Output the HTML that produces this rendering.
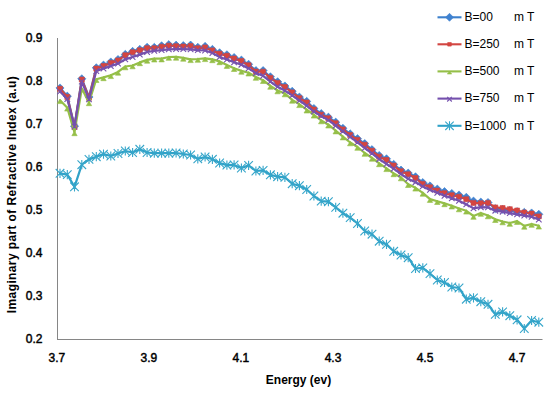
<!DOCTYPE html>
<html><head><meta charset="utf-8"><style>
html,body{margin:0;padding:0;background:#fff;}
body{width:550px;height:396px;position:relative;overflow:hidden;font-family:"Liberation Sans",sans-serif;color:#000;}
svg{position:absolute;left:0;top:0;}
.yl{position:absolute;left:0;width:42.5px;text-align:right;font-size:12px;line-height:15px;-webkit-text-stroke:0.45px #000;}
.xl{position:absolute;top:350.8px;width:40px;text-align:center;font-size:12px;line-height:15px;-webkit-text-stroke:0.45px #000;}
.lg{position:absolute;left:464.5px;font-size:12px;line-height:15px;}
.lg2{position:absolute;left:514px;font-size:12px;line-height:15px;}
.xt{position:absolute;left:198.5px;width:200px;top:372.6px;text-align:center;font-size:12px;font-weight:bold;line-height:15px;}
.yt{position:absolute;left:12px;top:186.6px;width:300px;margin-left:-150px;text-align:center;font-size:12px;font-weight:bold;line-height:15px;transform:rotate(-90deg);letter-spacing:0.38px;}
</style></head><body>
<svg width="550" height="396" viewBox="0 0 550 396">
<line x1="57.5" y1="38" x2="57.5" y2="340" stroke="#868686" stroke-width="1"/>
<line x1="57" y1="339.5" x2="542.5" y2="339.5" stroke="#868686" stroke-width="1"/>
<polyline points="60.0,88.0 67.3,96.2 74.5,126.2 81.8,78.8 89.0,97.0 96.3,67.8 103.5,65.1 110.8,62.0 118.0,59.5 125.3,54.4 132.6,51.4 139.8,49.4 147.1,47.3 154.3,47.4 161.6,45.8 168.8,44.7 176.1,45.2 183.3,45.6 190.6,45.1 197.8,47.3 205.1,46.4 212.4,49.4 219.6,52.8 226.9,54.8 234.1,57.5 241.4,60.1 248.6,64.3 255.9,70.6 263.1,70.6 270.4,76.8 277.6,81.8 284.9,86.0 292.2,91.3 299.4,97.1 306.7,101.4 313.9,108.5 321.2,113.6 328.4,117.2 335.7,122.2 342.9,128.3 350.2,133.9 357.5,138.7 364.7,143.6 372.0,149.7 379.2,155.5 386.5,158.8 393.7,164.4 401.0,170.1 408.2,173.1 415.5,176.8 422.8,182.6 430.0,185.9 437.3,189.1 444.5,191.6 451.8,193.5 459.0,195.0 466.3,197.3 473.5,201.1 480.8,202.1 488.0,202.5 495.3,208.6 502.6,209.3 509.8,210.4 517.1,211.7 524.3,212.4 531.6,213.0 538.8,214.3" fill="none" stroke="#3d80cc" stroke-width="2.2" stroke-linejoin="round" stroke-linecap="round"/>
<path d="M60.0 83.9L64.1 88.0L60.0 92.1L55.9 88.0ZM67.3 92.1L71.4 96.2L67.3 100.3L63.2 96.2ZM74.5 122.1L78.6 126.2L74.5 130.3L70.4 126.2ZM81.8 74.7L85.9 78.8L81.8 82.9L77.7 78.8ZM89.0 92.9L93.1 97.0L89.0 101.1L84.9 97.0ZM96.3 63.7L100.4 67.8L96.3 71.9L92.2 67.8ZM103.5 61.0L107.6 65.1L103.5 69.2L99.4 65.1ZM110.8 57.9L114.9 62.0L110.8 66.1L106.7 62.0ZM118.0 55.4L122.1 59.5L118.0 63.6L113.9 59.5ZM125.3 50.3L129.4 54.4L125.3 58.5L121.2 54.4ZM132.6 47.3L136.7 51.4L132.6 55.5L128.5 51.4ZM139.8 45.3L143.9 49.4L139.8 53.5L135.7 49.4ZM147.1 43.2L151.2 47.3L147.1 51.4L143.0 47.3ZM154.3 43.3L158.4 47.4L154.3 51.5L150.2 47.4ZM161.6 41.7L165.7 45.8L161.6 49.9L157.5 45.8ZM168.8 40.6L172.9 44.7L168.8 48.8L164.7 44.7ZM176.1 41.1L180.2 45.2L176.1 49.3L172.0 45.2ZM183.3 41.5L187.4 45.6L183.3 49.7L179.2 45.6ZM190.6 41.0L194.7 45.1L190.6 49.2L186.5 45.1ZM197.8 43.2L201.9 47.3L197.8 51.4L193.7 47.3ZM205.1 42.3L209.2 46.4L205.1 50.5L201.0 46.4ZM212.4 45.3L216.5 49.4L212.4 53.5L208.3 49.4ZM219.6 48.7L223.7 52.8L219.6 56.9L215.5 52.8ZM226.9 50.7L231.0 54.8L226.9 58.9L222.8 54.8ZM234.1 53.4L238.2 57.5L234.1 61.6L230.0 57.5ZM241.4 56.0L245.5 60.1L241.4 64.2L237.3 60.1ZM248.6 60.2L252.7 64.3L248.6 68.4L244.5 64.3ZM255.9 66.5L260.0 70.6L255.9 74.7L251.8 70.6ZM263.1 66.5L267.2 70.6L263.1 74.7L259.0 70.6ZM270.4 72.7L274.5 76.8L270.4 80.9L266.3 76.8ZM277.6 77.7L281.8 81.8L277.6 85.9L273.5 81.8ZM284.9 81.9L289.0 86.0L284.9 90.1L280.8 86.0ZM292.2 87.2L296.3 91.3L292.2 95.4L288.1 91.3ZM299.4 93.0L303.5 97.1L299.4 101.2L295.3 97.1ZM306.7 97.3L310.8 101.4L306.7 105.5L302.6 101.4ZM313.9 104.4L318.0 108.5L313.9 112.6L309.8 108.5ZM321.2 109.5L325.3 113.6L321.2 117.7L317.1 113.6ZM328.4 113.1L332.5 117.2L328.4 121.3L324.3 117.2ZM335.7 118.1L339.8 122.2L335.7 126.3L331.6 122.2ZM342.9 124.2L347.0 128.3L342.9 132.4L338.8 128.3ZM350.2 129.8L354.3 133.9L350.2 138.0L346.1 133.9ZM357.5 134.6L361.6 138.7L357.5 142.8L353.4 138.7ZM364.7 139.5L368.8 143.6L364.7 147.7L360.6 143.6ZM372.0 145.6L376.1 149.7L372.0 153.8L367.9 149.7ZM379.2 151.4L383.3 155.5L379.2 159.6L375.1 155.5ZM386.5 154.7L390.6 158.8L386.5 162.9L382.4 158.8ZM393.7 160.3L397.8 164.4L393.7 168.5L389.6 164.4ZM401.0 166.0L405.1 170.1L401.0 174.2L396.9 170.1ZM408.2 169.0L412.3 173.1L408.2 177.2L404.1 173.1ZM415.5 172.7L419.6 176.8L415.5 180.9L411.4 176.8ZM422.8 178.5L426.9 182.6L422.8 186.7L418.6 182.6ZM430.0 181.8L434.1 185.9L430.0 190.0L425.9 185.9ZM437.3 185.0L441.4 189.1L437.3 193.2L433.2 189.1ZM444.5 187.5L448.6 191.6L444.5 195.7L440.4 191.6ZM451.8 189.4L455.9 193.5L451.8 197.6L447.7 193.5ZM459.0 190.9L463.1 195.0L459.0 199.1L454.9 195.0ZM466.3 193.2L470.4 197.3L466.3 201.4L462.2 197.3ZM473.5 197.0L477.6 201.1L473.5 205.2L469.4 201.1ZM480.8 198.0L484.9 202.1L480.8 206.2L476.7 202.1ZM488.0 198.4L492.1 202.5L488.0 206.6L483.9 202.5ZM495.3 204.5L499.4 208.6L495.3 212.7L491.2 208.6ZM502.6 205.2L506.7 209.3L502.6 213.4L498.5 209.3ZM509.8 206.3L513.9 210.4L509.8 214.5L505.7 210.4ZM517.1 207.6L521.2 211.7L517.1 215.8L513.0 211.7ZM524.3 208.3L528.4 212.4L524.3 216.5L520.2 212.4ZM531.6 208.9L535.7 213.0L531.6 217.1L527.5 213.0ZM538.8 210.2L542.9 214.3L538.8 218.4L534.7 214.3Z" fill="#3f82d0" stroke="#3f82d0" stroke-width="0.6"/>
<polyline points="60.0,88.8 67.3,97.0 74.5,127.0 81.8,79.6 89.0,97.8 96.3,68.6 103.5,66.0 110.8,62.9 118.0,60.4 125.3,55.3 132.6,52.3 139.8,50.3 147.1,48.2 154.3,48.3 161.6,46.7 168.8,45.7 176.1,46.2 183.3,46.5 190.6,46.1 197.8,48.3 205.1,47.4 212.4,50.4 219.6,53.8 226.9,55.8 234.1,58.5 241.4,61.1 248.6,65.3 255.9,71.6 263.1,71.7 270.4,77.9 277.6,82.9 284.9,87.1 292.2,92.4 299.4,98.2 306.7,102.5 313.9,109.6 321.2,114.7 328.4,118.3 335.7,123.3 342.9,129.4 350.2,135.1 357.5,139.9 364.7,144.8 372.0,150.8 379.2,156.7 386.5,160.0 393.7,165.5 401.0,171.3 408.2,174.3 415.5,178.1 422.8,183.9 430.0,187.3 437.3,190.6 444.5,193.2 451.8,195.2 459.0,196.8 466.3,199.3 473.5,202.9 480.8,203.3 488.0,202.9 495.3,207.4 502.6,208.1 509.8,209.2 517.1,210.5 524.3,212.5 531.6,213.6 538.8,216.4" fill="none" stroke="#d24642" stroke-width="2.2" stroke-linejoin="round" stroke-linecap="round"/>
<path d="M57.5 86.3h5.0v5.0h-5.0ZM64.8 94.5h5.0v5.0h-5.0ZM72.0 124.5h5.0v5.0h-5.0ZM79.3 77.1h5.0v5.0h-5.0ZM86.5 95.3h5.0v5.0h-5.0ZM93.8 66.1h5.0v5.0h-5.0ZM101.0 63.5h5.0v5.0h-5.0ZM108.3 60.4h5.0v5.0h-5.0ZM115.5 57.9h5.0v5.0h-5.0ZM122.8 52.8h5.0v5.0h-5.0ZM130.1 49.8h5.0v5.0h-5.0ZM137.3 47.8h5.0v5.0h-5.0ZM144.6 45.7h5.0v5.0h-5.0ZM151.8 45.8h5.0v5.0h-5.0ZM159.1 44.2h5.0v5.0h-5.0ZM166.3 43.2h5.0v5.0h-5.0ZM173.6 43.7h5.0v5.0h-5.0ZM180.8 44.0h5.0v5.0h-5.0ZM188.1 43.6h5.0v5.0h-5.0ZM195.3 45.8h5.0v5.0h-5.0ZM202.6 44.9h5.0v5.0h-5.0ZM209.9 47.9h5.0v5.0h-5.0ZM217.1 51.3h5.0v5.0h-5.0ZM224.4 53.3h5.0v5.0h-5.0ZM231.6 56.0h5.0v5.0h-5.0ZM238.9 58.6h5.0v5.0h-5.0ZM246.1 62.8h5.0v5.0h-5.0ZM253.4 69.1h5.0v5.0h-5.0ZM260.6 69.2h5.0v5.0h-5.0ZM267.9 75.4h5.0v5.0h-5.0ZM275.1 80.4h5.0v5.0h-5.0ZM282.4 84.6h5.0v5.0h-5.0ZM289.7 89.9h5.0v5.0h-5.0ZM296.9 95.7h5.0v5.0h-5.0ZM304.2 100.0h5.0v5.0h-5.0ZM311.4 107.1h5.0v5.0h-5.0ZM318.7 112.2h5.0v5.0h-5.0ZM325.9 115.8h5.0v5.0h-5.0ZM333.2 120.8h5.0v5.0h-5.0ZM340.4 126.9h5.0v5.0h-5.0ZM347.7 132.6h5.0v5.0h-5.0ZM355.0 137.4h5.0v5.0h-5.0ZM362.2 142.3h5.0v5.0h-5.0ZM369.5 148.3h5.0v5.0h-5.0ZM376.7 154.2h5.0v5.0h-5.0ZM384.0 157.5h5.0v5.0h-5.0ZM391.2 163.0h5.0v5.0h-5.0ZM398.5 168.8h5.0v5.0h-5.0ZM405.7 171.8h5.0v5.0h-5.0ZM413.0 175.6h5.0v5.0h-5.0ZM420.2 181.4h5.0v5.0h-5.0ZM427.5 184.8h5.0v5.0h-5.0ZM434.8 188.1h5.0v5.0h-5.0ZM442.0 190.7h5.0v5.0h-5.0ZM449.3 192.7h5.0v5.0h-5.0ZM456.5 194.3h5.0v5.0h-5.0ZM463.8 196.8h5.0v5.0h-5.0ZM471.0 200.4h5.0v5.0h-5.0ZM478.3 200.8h5.0v5.0h-5.0ZM485.5 200.4h5.0v5.0h-5.0ZM492.8 204.9h5.0v5.0h-5.0ZM500.1 205.6h5.0v5.0h-5.0ZM507.3 206.7h5.0v5.0h-5.0ZM514.6 208.0h5.0v5.0h-5.0ZM521.8 210.0h5.0v5.0h-5.0ZM529.1 211.1h5.0v5.0h-5.0ZM536.3 213.9h5.0v5.0h-5.0Z" fill="#d44540" stroke="#d44540" stroke-width="0.6"/>
<polyline points="60.0,100.3 67.3,107.8 74.5,132.4 81.8,88.6 89.0,102.4 96.3,79.2 103.5,77.4 110.8,75.3 118.0,71.9 125.3,66.5 132.6,65.5 139.8,62.4 147.1,59.9 154.3,58.7 161.6,58.6 168.8,57.0 176.1,56.9 183.3,57.9 190.6,59.3 197.8,59.0 205.1,58.3 212.4,59.4 219.6,61.4 226.9,65.1 234.1,68.2 241.4,70.9 248.6,72.7 255.9,77.0 263.1,80.2 270.4,85.9 277.6,90.5 284.9,93.5 292.2,99.9 299.4,104.3 306.7,109.7 313.9,114.8 321.2,120.5 328.4,124.7 335.7,130.6 342.9,136.6 350.2,142.5 357.5,147.0 364.7,153.0 372.0,157.9 379.2,163.4 386.5,168.3 393.7,173.4 401.0,177.5 408.2,184.2 415.5,187.8 422.8,192.9 430.0,199.1 437.3,201.2 444.5,203.4 451.8,205.7 459.0,208.5 466.3,210.8 473.5,216.0 480.8,213.0 488.0,215.5 495.3,219.2 502.6,221.5 509.8,223.0 517.1,221.1 524.3,225.9 531.6,224.0 538.8,225.8" fill="none" stroke="#95bf48" stroke-width="2.2" stroke-linejoin="round" stroke-linecap="round"/>
<path d="M60.0 99.1L62.7 103.6L57.3 103.6ZM67.3 106.6L70.0 111.1L64.6 111.1ZM74.5 131.2L77.2 135.7L71.8 135.7ZM81.8 87.4L84.5 91.9L79.1 91.9ZM89.0 101.2L91.7 105.7L86.3 105.7ZM96.3 78.0L99.0 82.5L93.6 82.5ZM103.5 76.2L106.2 80.7L100.8 80.7ZM110.8 74.1L113.5 78.6L108.1 78.6ZM118.0 70.7L120.7 75.2L115.3 75.2ZM125.3 65.3L128.0 69.8L122.6 69.8ZM132.6 64.3L135.2 68.8L129.9 68.8ZM139.8 61.2L142.5 65.7L137.1 65.7ZM147.1 58.7L149.8 63.2L144.4 63.2ZM154.3 57.5L157.0 62.0L151.6 62.0ZM161.6 57.4L164.3 61.9L158.9 61.9ZM168.8 55.8L171.5 60.3L166.1 60.3ZM176.1 55.7L178.8 60.2L173.4 60.2ZM183.3 56.7L186.0 61.2L180.6 61.2ZM190.6 58.1L193.3 62.6L187.9 62.6ZM197.8 57.8L200.5 62.3L195.1 62.3ZM205.1 57.1L207.8 61.6L202.4 61.6ZM212.4 58.2L215.1 62.7L209.7 62.7ZM219.6 60.2L222.3 64.7L216.9 64.7ZM226.9 63.9L229.6 68.4L224.2 68.4ZM234.1 67.0L236.8 71.5L231.4 71.5ZM241.4 69.7L244.1 74.2L238.7 74.2ZM248.6 71.5L251.3 76.0L245.9 76.0ZM255.9 75.8L258.6 80.3L253.2 80.3ZM263.1 79.0L265.8 83.5L260.4 83.5ZM270.4 84.7L273.1 89.2L267.7 89.2ZM277.6 89.3L280.3 93.8L274.9 93.8ZM284.9 92.3L287.6 96.8L282.2 96.8ZM292.2 98.7L294.9 103.2L289.5 103.2ZM299.4 103.1L302.1 107.6L296.7 107.6ZM306.7 108.5L309.4 113.0L304.0 113.0ZM313.9 113.6L316.6 118.1L311.2 118.1ZM321.2 119.3L323.9 123.8L318.5 123.8ZM328.4 123.5L331.1 128.0L325.7 128.0ZM335.7 129.4L338.4 133.9L333.0 133.9ZM342.9 135.4L345.6 139.9L340.2 139.9ZM350.2 141.3L352.9 145.8L347.5 145.8ZM357.5 145.8L360.2 150.3L354.8 150.3ZM364.7 151.8L367.4 156.3L362.0 156.3ZM372.0 156.7L374.7 161.2L369.3 161.2ZM379.2 162.2L381.9 166.7L376.5 166.7ZM386.5 167.1L389.2 171.6L383.8 171.6ZM393.7 172.2L396.4 176.7L391.0 176.7ZM401.0 176.3L403.7 180.8L398.3 180.8ZM408.2 183.0L410.9 187.5L405.5 187.5ZM415.5 186.6L418.2 191.1L412.8 191.1ZM422.8 191.7L425.4 196.2L420.1 196.2ZM430.0 197.9L432.7 202.4L427.3 202.4ZM437.3 200.0L440.0 204.5L434.6 204.5ZM444.5 202.2L447.2 206.7L441.8 206.7ZM451.8 204.5L454.5 209.0L449.1 209.0ZM459.0 207.3L461.7 211.8L456.3 211.8ZM466.3 209.6L469.0 214.1L463.6 214.1ZM473.5 214.8L476.2 219.3L470.8 219.3ZM480.8 211.8L483.5 216.3L478.1 216.3ZM488.0 214.3L490.7 218.8L485.3 218.8ZM495.3 218.0L498.0 222.5L492.6 222.5ZM502.6 220.3L505.3 224.8L499.9 224.8ZM509.8 221.8L512.5 226.3L507.1 226.3ZM517.1 219.9L519.8 224.4L514.4 224.4ZM524.3 224.7L527.0 229.2L521.6 229.2ZM531.6 222.8L534.3 227.3L528.9 227.3ZM538.8 224.6L541.5 229.1L536.1 229.1Z" fill="#95bf48" stroke="#95bf48" stroke-width="0.6"/>
<polyline points="60.0,91.6 67.3,99.0 74.5,126.5 81.8,81.6 89.0,99.4 96.3,71.0 103.5,68.5 110.8,66.1 118.0,63.5 125.3,59.4 132.6,57.0 139.8,54.6 147.1,52.0 154.3,50.8 161.6,50.1 168.8,49.3 176.1,49.1 183.3,49.1 190.6,49.4 197.8,50.1 205.1,50.5 212.4,53.0 219.6,57.1 226.9,59.5 234.1,62.3 241.4,64.7 248.6,68.4 255.9,73.1 263.1,75.8 270.4,81.6 277.6,86.8 284.9,90.6 292.2,95.4 299.4,100.5 306.7,105.7 313.9,111.6 321.2,116.1 328.4,120.1 335.7,125.7 342.9,131.4 350.2,137.0 357.5,142.4 364.7,148.0 372.0,153.4 379.2,159.2 386.5,164.0 393.7,168.7 401.0,174.0 408.2,178.8 415.5,182.2 422.8,186.4 430.0,189.9 437.3,192.8 444.5,195.8 451.8,198.3 459.0,200.8 466.3,204.4 473.5,208.4 480.8,207.2 488.0,207.4 495.3,210.7 502.6,211.7 509.8,213.1 517.1,214.4 524.3,215.6 531.6,216.8 538.8,219.5" fill="none" stroke="#7450ad" stroke-width="2.2" stroke-linejoin="round" stroke-linecap="round"/>
<path d="M57.2 88.8L62.8 94.4M62.8 88.8L57.2 94.4M64.5 96.2L70.1 101.8M70.1 96.2L64.5 101.8M71.7 123.7L77.3 129.3M77.3 123.7L71.7 129.3M79.0 78.8L84.6 84.4M84.6 78.8L79.0 84.4M86.2 96.6L91.8 102.2M91.8 96.6L86.2 102.2M93.5 68.2L99.1 73.8M99.1 68.2L93.5 73.8M100.7 65.7L106.3 71.3M106.3 65.7L100.7 71.3M108.0 63.3L113.6 68.9M113.6 63.3L108.0 68.9M115.2 60.7L120.8 66.3M120.8 60.7L115.2 66.3M122.5 56.6L128.1 62.2M128.1 56.6L122.5 62.2M129.8 54.2L135.4 59.8M135.4 54.2L129.8 59.8M137.0 51.8L142.6 57.4M142.6 51.8L137.0 57.4M144.3 49.2L149.9 54.8M149.9 49.2L144.3 54.8M151.5 48.0L157.1 53.6M157.1 48.0L151.5 53.6M158.8 47.3L164.4 52.9M164.4 47.3L158.8 52.9M166.0 46.5L171.6 52.1M171.6 46.5L166.0 52.1M173.3 46.3L178.9 51.9M178.9 46.3L173.3 51.9M180.5 46.3L186.1 51.9M186.1 46.3L180.5 51.9M187.8 46.6L193.4 52.2M193.4 46.6L187.8 52.2M195.0 47.3L200.6 52.9M200.6 47.3L195.0 52.9M202.3 47.7L207.9 53.3M207.9 47.7L202.3 53.3M209.6 50.2L215.2 55.8M215.2 50.2L209.6 55.8M216.8 54.3L222.4 59.9M222.4 54.3L216.8 59.9M224.1 56.7L229.7 62.3M229.7 56.7L224.1 62.3M231.3 59.5L236.9 65.1M236.9 59.5L231.3 65.1M238.6 61.9L244.2 67.5M244.2 61.9L238.6 67.5M245.8 65.6L251.4 71.2M251.4 65.6L245.8 71.2M253.1 70.3L258.7 75.9M258.7 70.3L253.1 75.9M260.3 73.0L265.9 78.6M265.9 73.0L260.3 78.6M267.6 78.8L273.2 84.4M273.2 78.8L267.6 84.4M274.8 84.0L280.4 89.6M280.4 84.0L274.8 89.6M282.1 87.8L287.7 93.4M287.7 87.8L282.1 93.4M289.4 92.6L295.0 98.2M295.0 92.6L289.4 98.2M296.6 97.7L302.2 103.3M302.2 97.7L296.6 103.3M303.9 102.9L309.5 108.5M309.5 102.9L303.9 108.5M311.1 108.8L316.7 114.4M316.7 108.8L311.1 114.4M318.4 113.3L324.0 118.9M324.0 113.3L318.4 118.9M325.6 117.3L331.2 122.9M331.2 117.3L325.6 122.9M332.9 122.9L338.5 128.5M338.5 122.9L332.9 128.5M340.1 128.6L345.7 134.2M345.7 128.6L340.1 134.2M347.4 134.2L353.0 139.8M353.0 134.2L347.4 139.8M354.7 139.6L360.3 145.2M360.3 139.6L354.7 145.2M361.9 145.2L367.5 150.8M367.5 145.2L361.9 150.8M369.2 150.6L374.8 156.2M374.8 150.6L369.2 156.2M376.4 156.4L382.0 162.0M382.0 156.4L376.4 162.0M383.7 161.2L389.3 166.8M389.3 161.2L383.7 166.8M390.9 165.9L396.5 171.5M396.5 165.9L390.9 171.5M398.2 171.2L403.8 176.8M403.8 171.2L398.2 176.8M405.4 176.0L411.0 181.6M411.0 176.0L405.4 181.6M412.7 179.4L418.3 185.0M418.3 179.4L412.7 185.0M419.9 183.6L425.6 189.2M425.6 183.6L419.9 189.2M427.2 187.1L432.8 192.7M432.8 187.1L427.2 192.7M434.5 190.0L440.1 195.6M440.1 190.0L434.5 195.6M441.7 193.0L447.3 198.6M447.3 193.0L441.7 198.6M449.0 195.5L454.6 201.1M454.6 195.5L449.0 201.1M456.2 198.0L461.8 203.6M461.8 198.0L456.2 203.6M463.5 201.6L469.1 207.2M469.1 201.6L463.5 207.2M470.7 205.6L476.3 211.2M476.3 205.6L470.7 211.2M478.0 204.4L483.6 210.0M483.6 204.4L478.0 210.0M485.2 204.6L490.8 210.2M490.8 204.6L485.2 210.2M492.5 207.9L498.1 213.5M498.1 207.9L492.5 213.5M499.8 208.9L505.4 214.5M505.4 208.9L499.8 214.5M507.0 210.3L512.6 215.9M512.6 210.3L507.0 215.9M514.3 211.6L519.9 217.2M519.9 211.6L514.3 217.2M521.5 212.8L527.1 218.4M527.1 212.8L521.5 218.4M528.8 214.0L534.4 219.6M534.4 214.0L528.8 219.6M536.0 216.7L541.6 222.3M541.6 216.7L536.0 222.3" fill="none" stroke="#7652ae" stroke-width="1.1"/>
<polyline points="60.0,173.3 67.3,174.6 74.5,186.8 81.8,164.7 89.0,159.4 96.3,156.7 103.5,154.1 110.8,156.0 118.0,153.5 125.3,151.0 132.6,152.5 139.8,149.3 147.1,152.5 154.3,153.2 161.6,153.2 168.8,153.2 176.1,153.0 183.3,154.0 190.6,155.0 197.8,158.9 205.1,157.0 212.4,159.3 219.6,163.0 226.9,165.1 234.1,164.9 241.4,168.0 248.6,165.4 255.9,171.0 263.1,170.4 270.4,174.8 277.6,176.7 284.9,177.4 292.2,183.7 299.4,185.7 306.7,189.5 313.9,196.0 321.2,201.1 328.4,201.7 335.7,207.4 342.9,213.2 350.2,217.6 357.5,223.5 364.7,231.0 372.0,234.2 379.2,241.2 386.5,244.4 393.7,251.3 401.0,255.0 408.2,257.7 415.5,268.5 422.8,267.9 430.0,273.6 437.3,280.0 444.5,282.5 451.8,287.0 459.0,288.0 466.3,299.2 473.5,297.9 480.8,301.7 488.0,304.3 495.3,314.4 502.6,311.9 509.8,315.7 517.1,319.8 524.3,328.5 531.6,320.5 538.8,322.2" fill="none" stroke="#30a2c8" stroke-width="2.2" stroke-linejoin="round" stroke-linecap="round"/>
<path d="M55.7 169.0L64.3 177.6M64.3 169.0L55.7 177.6M60.0 168.7V177.9M63.0 170.3L71.6 178.9M71.6 170.3L63.0 178.9M67.3 170.0V179.2M70.2 182.5L78.8 191.1M78.8 182.5L70.2 191.1M74.5 182.2V191.4M77.5 160.4L86.1 169.0M86.1 160.4L77.5 169.0M81.8 160.1V169.3M84.7 155.1L93.3 163.7M93.3 155.1L84.7 163.7M89.0 154.8V164.0M92.0 152.4L100.6 161.0M100.6 152.4L92.0 161.0M96.3 152.1V161.3M99.2 149.8L107.8 158.4M107.8 149.8L99.2 158.4M103.5 149.5V158.7M106.5 151.7L115.1 160.3M115.1 151.7L106.5 160.3M110.8 151.4V160.6M113.7 149.2L122.3 157.8M122.3 149.2L113.7 157.8M118.0 148.9V158.1M121.0 146.7L129.6 155.3M129.6 146.7L121.0 155.3M125.3 146.4V155.6M128.2 148.2L136.9 156.8M136.9 148.2L128.2 156.8M132.6 147.9V157.1M135.5 145.0L144.1 153.6M144.1 145.0L135.5 153.6M139.8 144.7V153.9M142.8 148.2L151.4 156.8M151.4 148.2L142.8 156.8M147.1 147.9V157.1M150.0 148.9L158.6 157.5M158.6 148.9L150.0 157.5M154.3 148.6V157.8M157.3 148.9L165.9 157.5M165.9 148.9L157.3 157.5M161.6 148.6V157.8M164.5 148.9L173.1 157.5M173.1 148.9L164.5 157.5M168.8 148.6V157.8M171.8 148.7L180.4 157.3M180.4 148.7L171.8 157.3M176.1 148.4V157.6M179.0 149.7L187.6 158.3M187.6 149.7L179.0 158.3M183.3 149.4V158.6M186.3 150.7L194.9 159.3M194.9 150.7L186.3 159.3M190.6 150.4V159.6M193.5 154.6L202.1 163.2M202.1 154.6L193.5 163.2M197.8 154.3V163.5M200.8 152.7L209.4 161.3M209.4 152.7L200.8 161.3M205.1 152.4V161.6M208.1 155.0L216.7 163.6M216.7 155.0L208.1 163.6M212.4 154.7V163.9M215.3 158.7L223.9 167.3M223.9 158.7L215.3 167.3M219.6 158.4V167.6M222.6 160.8L231.2 169.4M231.2 160.8L222.6 169.4M226.9 160.5V169.7M229.8 160.6L238.4 169.2M238.4 160.6L229.8 169.2M234.1 160.3V169.5M237.1 163.7L245.7 172.3M245.7 163.7L237.1 172.3M241.4 163.4V172.6M244.3 161.1L252.9 169.7M252.9 161.1L244.3 169.7M248.6 160.8V170.0M251.6 166.7L260.2 175.3M260.2 166.7L251.6 175.3M255.9 166.4V175.6M258.8 166.1L267.4 174.7M267.4 166.1L258.8 174.7M263.1 165.8V175.0M266.1 170.5L274.7 179.1M274.7 170.5L266.1 179.1M270.4 170.2V179.4M273.3 172.4L281.9 181.0M281.9 172.4L273.3 181.0M277.6 172.1V181.3M280.6 173.1L289.2 181.7M289.2 173.1L280.6 181.7M284.9 172.8V182.0M287.9 179.4L296.5 188.0M296.5 179.4L287.9 188.0M292.2 179.1V188.3M295.1 181.4L303.7 190.0M303.7 181.4L295.1 190.0M299.4 181.1V190.3M302.4 185.2L311.0 193.8M311.0 185.2L302.4 193.8M306.7 184.9V194.1M309.6 191.7L318.2 200.3M318.2 191.7L309.6 200.3M313.9 191.4V200.6M316.9 196.8L325.5 205.4M325.5 196.8L316.9 205.4M321.2 196.5V205.7M324.1 197.4L332.7 206.0M332.7 197.4L324.1 206.0M328.4 197.1V206.3M331.4 203.1L340.0 211.7M340.0 203.1L331.4 211.7M335.7 202.8V212.0M338.6 208.9L347.2 217.5M347.2 208.9L338.6 217.5M342.9 208.6V217.8M345.9 213.3L354.5 221.9M354.5 213.3L345.9 221.9M350.2 213.0V222.2M353.2 219.2L361.8 227.8M361.8 219.2L353.2 227.8M357.5 218.9V228.1M360.4 226.7L369.0 235.3M369.0 226.7L360.4 235.3M364.7 226.4V235.6M367.7 229.9L376.3 238.5M376.3 229.9L367.7 238.5M372.0 229.6V238.8M374.9 236.9L383.5 245.5M383.5 236.9L374.9 245.5M379.2 236.6V245.8M382.2 240.1L390.8 248.7M390.8 240.1L382.2 248.7M386.5 239.8V249.0M389.4 247.0L398.0 255.6M398.0 247.0L389.4 255.6M393.7 246.7V255.9M396.7 250.7L405.3 259.3M405.3 250.7L396.7 259.3M401.0 250.4V259.6M403.9 253.4L412.5 262.0M412.5 253.4L403.9 262.0M408.2 253.1V262.3M411.2 264.2L419.8 272.8M419.8 264.2L411.2 272.8M415.5 263.9V273.1M418.4 263.6L427.1 272.2M427.1 263.6L418.4 272.2M422.8 263.3V272.5M425.7 269.3L434.3 277.9M434.3 269.3L425.7 277.9M430.0 269.0V278.2M433.0 275.7L441.6 284.3M441.6 275.7L433.0 284.3M437.3 275.4V284.6M440.2 278.2L448.8 286.8M448.8 278.2L440.2 286.8M444.5 277.9V287.1M447.5 282.7L456.1 291.3M456.1 282.7L447.5 291.3M451.8 282.4V291.6M454.7 283.7L463.3 292.3M463.3 283.7L454.7 292.3M459.0 283.4V292.6M462.0 294.9L470.6 303.5M470.6 294.9L462.0 303.5M466.3 294.6V303.8M469.2 293.6L477.8 302.2M477.8 293.6L469.2 302.2M473.5 293.3V302.5M476.5 297.4L485.1 306.0M485.1 297.4L476.5 306.0M480.8 297.1V306.3M483.7 300.0L492.3 308.6M492.3 300.0L483.7 308.6M488.0 299.7V308.9M491.0 310.1L499.6 318.7M499.6 310.1L491.0 318.7M495.3 309.8V319.0M498.3 307.6L506.9 316.2M506.9 307.6L498.3 316.2M502.6 307.3V316.5M505.5 311.4L514.1 320.0M514.1 311.4L505.5 320.0M509.8 311.1V320.3M512.8 315.5L521.4 324.1M521.4 315.5L512.8 324.1M517.1 315.2V324.4M520.0 324.2L528.6 332.8M528.6 324.2L520.0 332.8M524.3 323.9V333.1M527.3 316.2L535.9 324.8M535.9 316.2L527.3 324.8M531.6 315.9V325.1M534.5 317.9L543.1 326.5M543.1 317.9L534.5 326.5M538.8 317.6V326.8" fill="none" stroke="#36a6ca" stroke-width="1.1"/>
<line x1="437.5" y1="17.3" x2="461.5" y2="17.3" stroke="#3d80cc" stroke-width="2.1"/>
<path d="M449.5 13.3L453.5 17.3L449.5 21.3L445.5 17.3Z" fill="#3f82d0" stroke="#3f82d0" stroke-width="0.6"/>
<line x1="437.5" y1="44.3" x2="461.5" y2="44.3" stroke="#d24642" stroke-width="2.1"/>
<path d="M447.7 42.5h3.6v3.6h-3.6Z" fill="#d44540" stroke="#d44540" stroke-width="0.6"/>
<line x1="437.5" y1="71.4" x2="461.5" y2="71.4" stroke="#95bf48" stroke-width="2.1"/>
<path d="M449.5 71.4L451.7 74.0L447.3 74.0Z" fill="#95bf48" stroke="#95bf48" stroke-width="0.6"/>
<line x1="437.5" y1="98.6" x2="461.5" y2="98.6" stroke="#7450ad" stroke-width="2.1"/>
<path d="M447.2 96.9L451.8 101.5M451.8 96.9L447.2 101.5" fill="none" stroke="#7652ae" stroke-width="1.1"/>
<line x1="437.5" y1="125.8" x2="461.5" y2="125.8" stroke="#30a2c8" stroke-width="2.1"/>
<path d="M445.3 121.6L453.7 130.0M453.7 121.6L445.3 130.0M449.5 121.3V130.3" fill="none" stroke="#36a6ca" stroke-width="1.1"/>
</svg>
<div class="yl" style="top:30.7px">0.9</div><div class="yl" style="top:73.7px">0.8</div><div class="yl" style="top:116.8px">0.7</div><div class="yl" style="top:159.8px">0.6</div><div class="yl" style="top:202.8px">0.5</div><div class="yl" style="top:245.8px">0.4</div><div class="yl" style="top:288.9px">0.3</div><div class="yl" style="top:331.9px">0.2</div>
<div class="xl" style="left:36.9px">3.7</div><div class="xl" style="left:128.9px">3.9</div><div class="xl" style="left:220.9px">4.1</div><div class="xl" style="left:313.0px">4.3</div><div class="xl" style="left:405.0px">4.5</div><div class="xl" style="left:497.0px">4.7</div>
<div class="lg" style="top:10.1px">B=00</div><div class="lg2" style="top:10.1px">m T</div><div class="lg" style="top:37.1px">B=250</div><div class="lg2" style="top:37.1px">m T</div><div class="lg" style="top:64.2px">B=500</div><div class="lg2" style="top:64.2px">m T</div><div class="lg" style="top:91.4px">B=750</div><div class="lg2" style="top:91.4px">m T</div><div class="lg" style="top:118.6px">B=1000</div><div class="lg2" style="top:118.6px">m T</div>
<div class="xt">Energy (ev)</div>
<div class="yt">Imaginary part of Refractive Index (a.u)</div>
</body></html>
